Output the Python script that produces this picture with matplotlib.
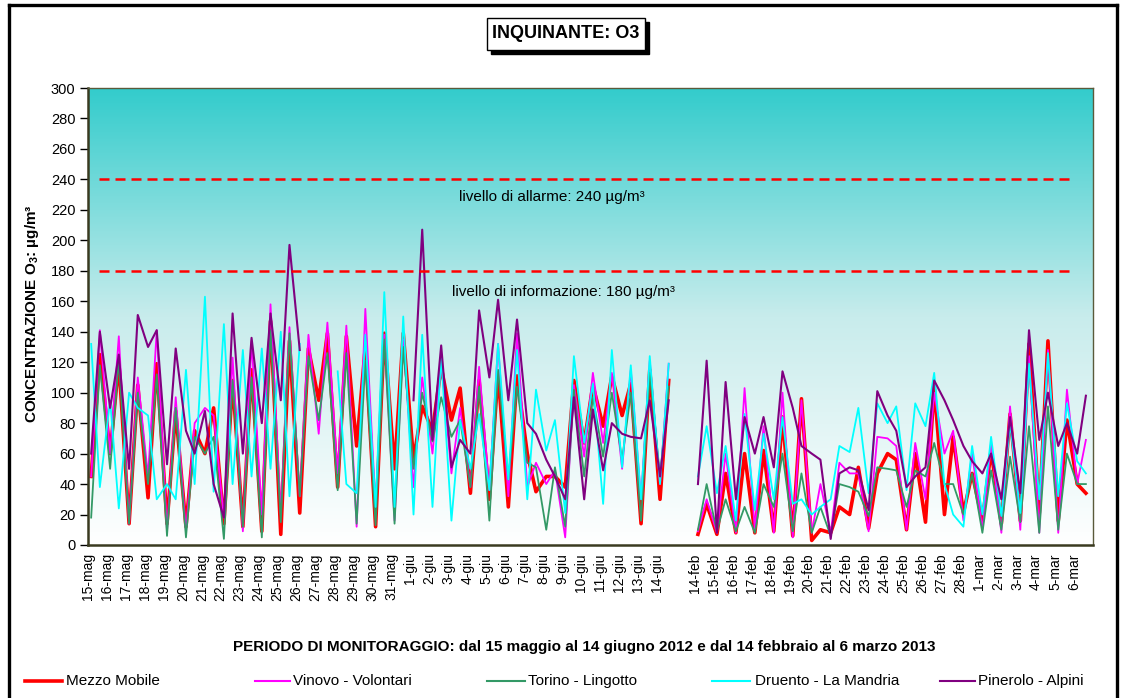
import numpy as np
import matplotlib
matplotlib.use("Agg")
import matplotlib.pyplot as plt
from matplotlib.patches import Rectangle
from matplotlib.lines import Line2D
from matplotlib.colors import LinearSegmentedColormap

plt.rcParams['font.family'] = ['Liberation Sans', 'DejaVu Sans']
plt.rcParams['mathtext.fontset'] = 'custom'
plt.rcParams['mathtext.rm'] = 'Liberation Sans'
plt.rcParams['mathtext.bf'] = 'Liberation Sans:bold'

# ---------------- data (µg/m3), two readings per day: night (~04h) and afternoon (~15h)
may_labels = ["15-mag", "16-mag", "17-mag", "18-mag", "19-mag", "20-mag", "21-mag", "22-mag",
              "23-mag", "24-mag", "25-mag", "26-mag", "27-mag", "28-mag", "29-mag", "30-mag",
              "31-mag", "1-giu", "2-giu", "3-giu", "4-giu", "5-giu", "6-giu", "7-giu", "8-giu",
              "9-giu", "10-giu", "11-giu", "12-giu", "13-giu", "14-giu"]
feb_labels = ["14-feb", "15-feb", "16-feb", "17-feb", "18-feb", "19-feb", "20-feb", "21-feb",
              "22-feb", "23-feb", "24-feb", "25-feb", "26-feb", "27-feb", "28-feb", "1-mar",
              "2-mar", "3-mar", "4-mar", "5-mar", "6-mar"]
reading_hours = [4, 15]
N = None

mezzo_may = [45, 125, 60, 120, 14, 105, 31, 119, 14, 88, 12, 75, 60, 90, 14, 108,
             12, 115, 9, 147, 7, 134, 21, 129, 95, 139, 38, 137, 65, 130, 12, 139,
             50, 139, 56, 91, 75, 117, 82, 103, 34, 108, 30, 113, 25, 111, 60, 35,
             45, 45, 38, 108, 67, 105, 78, 111, 85, 106, 14, 115, 30, 108]
vinovo_may = [45, 141, 60, 137, 14, 110, 45, 141, 9, 97, 9, 80, 90, 85, 18, 123,
              9, 134, 20, 158, 20, 143, 32, 138, 73, 146, 47, 144, 12, 155, 25, 138,
              16, 135, 38, 110, 60, 121, 47, 90, 38, 117, 36, 132, 32, 139, 38, 54,
              40, 49, 5, 105, 58, 113, 67, 113, 50, 115, 30, 121, 40, 119]
torino_may = [18, 118, 50, 122, 14, 100, 40, 112, 6, 90, 5, 71, 60, 71, 4, 108,
              12, 110, 5, 141, 15, 139, 32, 124, 82, 126, 36, 126, 14, 121, 13, 135,
              14, 130, 50, 100, 68, 97, 71, 82, 38, 104, 16, 115, 43, 104, 54, 51,
              10, 51, 12, 102, 45, 97, 58, 100, 56, 100, 16, 113, 45, 104]
druento_may = [132, 38, 95, 24, 100, 90, 85, 30, 40, 30, 115, 40, 163, 35, 145, 40,
               128, 45, 129, 50, 140, 32, 132, N, N, N, 114, 40, 34, 138, 25, 166,
               25, 150, 20, 138, 25, 124, 16, 82, 50, 86, 36, 132, 43, 128, 30, 102,
               62, 82, 21, 124, 67, 106, 27, 128, 51, 118, 30, 124, 40, 119]
pinerolo_may = [60, 140, 90, 125, 50, 151, 130, 141, 53, 129, 75, 60, 88, 40, 18, 152,
                60, 136, 80, 152, 95, 197, 128, N, N, N, N, N, N, N, N, N,
                N, N, 95, 207, 69, 131, 51, 69, 60, 154, 110, 161, 95, 148, 80, 73,
                56, 45, 30, 97, 30, 89, 49, 80, 73, 71, 70, 95, 45, 95]

mezzo_feb = [7, 27, 7, 47, 8, 60, 8, 62, 9, 84, 6, 96, 3, 10, 8, 25, 20, 51, 11, 47,
             60, 56, 10, 60, 15, 104, 20, 71, 21, 47, 16, 62, 14, 86, 16, 132, 21, 134,
             16, 82, 40, 34]
vinovo_feb = [9, 30, 8, 60, 8, 103, 10, 78, 8, 100, 5, 95, 8, 40, 8, 54, 47, 47, 9, 71,
              70, 65, 10, 67, 30, 100, 60, 75, 16, 60, 10, 67, 8, 91, 10, 124, 8, 128,
              8, 102, 40, 69]
torino_feb = [10, 40, 9, 30, 9, 25, 8, 40, 25, 60, 9, 47, 8, 25, 6, 40, 38, 35, 19, 51,
              50, 49, 25, 49, 45, 67, 40, 40, 20, 47, 8, 49, 10, 58, 15, 78, 8, 91,
              10, 60, 40, 40]
druento_feb = [45, 78, 34, 65, 16, 86, 23, 73, 30, 84, 27, 30, 20, 25, 30, 65, 61, 90, 34, 93,
               80, 91, 36, 93, 78, 113, 40, 20, 12, 65, 20, 71, 19, 80, 21, 119, 30, 126,
               32, 93, 55, 47]
pinerolo_feb = [40, 121, 8, 107, 30, 84, 60, 84, 51, 114, 90, 65, 60, 56, 4, 47, 51, 49, 23, 101,
                85, 75, 38, 45, 51, 108, 95, 82, 65, 55, 47, 60, 30, 84, 34, 141, 69, 100,
                65, 80, 60, 98]

series_names = ["Mezzo Mobile", "Vinovo - Volontari", "Torino - Lingotto",
                "Druento - La Mandria", "Pinerolo - Alpini"]
series_colors = ["#FF0000", "#FF00FF", "#339966", "#00FFFF", "#800080"]
series_lw = [2.6, 1.3, 1.3, 1.3, 1.5]
series_may = [mezzo_may, vinovo_may, torino_may, druento_may, pinerolo_may]
series_feb = [mezzo_feb, vinovo_feb, torino_feb, druento_feb, pinerolo_feb]

threshold_values = [240, 180]
threshold_texts = ["livello di allarme: 240 µg/m³", "livello di informazione: 180 µg/m³"]

# ---------------- category positions (1 unit = 1 day, gap day between the two periods)
may_days = list(range(len(may_labels)))
gap_day = len(may_labels)
feb_days = [gap_day + 1 + i for i in range(len(feb_labels))]
n_days = feb_days[-1] + 1

x_may = [d + h / 24 for d in may_days for h in reading_hours]
x_feb = [d + h / 24 for d in feb_days for h in reading_hours]
x_all = np.array(x_may + [gap_day + 0.5] + x_feb)


def to_arr(a, b):
    return np.array([np.nan if v is None else v for v in a] + [np.nan] +
                    [np.nan if v is None else v for v in b], dtype=float)


# ---------------- figure
W, H = 1122, 698
fig = plt.figure(figsize=(W / 100, H / 100), dpi=100)
fig.patch.set_facecolor("white")

L, R, T, B = 88, 1093, 88, 545
ax = fig.add_axes([L / W, 1 - B / H, (R - L) / W, (B - T) / H])

cmap = LinearSegmentedColormap.from_list("bg", ["#FFFFFF", "#C8ECEC", "#33CCCC"])
grad = np.linspace(0, 1, 256).reshape(-1, 1)
ax.imshow(grad, cmap=cmap, origin="lower", aspect="auto",
          extent=[0, n_days, 0, 300], zorder=0, interpolation="bilinear")

for vals_a, vals_b, c, lw in zip(series_may, series_feb, series_colors, series_lw):
    ax.plot(x_all, to_arr(vals_a, vals_b), color=c, lw=lw, zorder=2,
            solid_joinstyle="round")

for v in threshold_values:
    ax.plot([0.6, 52.0], [v, v], color="#FF0000", lw=1.8, dashes=(4, 2.4), zorder=3)

ax.text(24.47, 228.5, threshold_texts[0], ha="center", va="center", fontsize=11, zorder=4)
ax.text(25.05, 166.0, threshold_texts[1], ha="center", va="center", fontsize=11, zorder=4)

ax.set_xlim(0, n_days)
ax.set_ylim(0, 300)
ax.set_yticks(range(0, 301, 20))
ax.tick_params(axis="y", direction="out", length=6, width=1, labelsize=10.5, colors="black", pad=3)
ax.set_xticks(may_days + feb_days)
ax.set_xticklabels(may_labels + feb_labels, rotation=90, fontsize=10)
ax.tick_params(axis="x", length=0, pad=6)

for s in ["left", "bottom"]:
    ax.spines[s].set_color("#3a3a20")
    ax.spines[s].set_linewidth(1.8)
for s in ["top", "right"]:
    ax.spines[s].set_color("#5a5a3a")
    ax.spines[s].set_linewidth(1.0)

# axis titles
fig.text(32 / W, 1 - 314 / H, r"CONCENTRAZIONE O$_\mathbf{3}$: µg/m³", rotation=90,
         ha="center", va="center", fontsize=11, fontweight="bold")
fig.text(584 / W, 1 - 647 / H,
         "PERIODO DI MONITORAGGIO: dal 15 maggio al 14 giugno 2012 e dal 14 febbraio al 6 marzo 2013",
         ha="center", va="center", fontsize=11, fontweight="bold")

# title box with shadow
bx0, by0, bx1, by1 = 487, 18, 645, 50
fig.patches.append(Rectangle(((bx0 + 4) / W, 1 - (by1 + 4) / H), (bx1 - bx0) / W, (by1 - by0) / H,
                             transform=fig.transFigure, facecolor="black", edgecolor="black", zorder=5))
fig.patches.append(Rectangle((bx0 / W, 1 - by1 / H), (bx1 - bx0) / W, (by1 - by0) / H,
                             transform=fig.transFigure, facecolor="white", edgecolor="black",
                             lw=1.0, zorder=6))
fig.text((bx0 + bx1) / 2 / W, 1 - 34 / H, "INQUINANTE: O3", ha="center", va="center",
         fontsize=13, fontweight="bold", zorder=7)

# legend
leg_y = 681
leg_pos = [(25, 62, 66), (255, 290, 293), (487, 525, 528), (712, 750, 755), (940, 975, 978)]
for (x0, x1, xt), name, c, lw in zip(leg_pos, series_names, series_colors, series_lw):
    fig.lines.append(Line2D([x0 / W, x1 / W], [1 - leg_y / H, 1 - leg_y / H],
                            transform=fig.transFigure, color=c, lw=max(lw, 1.5)))
    fig.text(xt / W, 1 - leg_y / H, name, ha="left", va="center", fontsize=11)

# outer frame
frame_kw = dict(transform=fig.transFigure, color="black", lw=2.4, solid_capstyle="projecting")
fig.lines.append(Line2D([9 / W, 9 / W], [1 - 5 / H, -0.01], **frame_kw))
fig.lines.append(Line2D([9 / W, 1117 / W], [1 - 5 / H, 1 - 5 / H], **frame_kw))
fig.lines.append(Line2D([1117 / W, 1117 / W], [1 - 5 / H, -0.01], **frame_kw))

fig.savefig("out.png", dpi=100, facecolor="white")
